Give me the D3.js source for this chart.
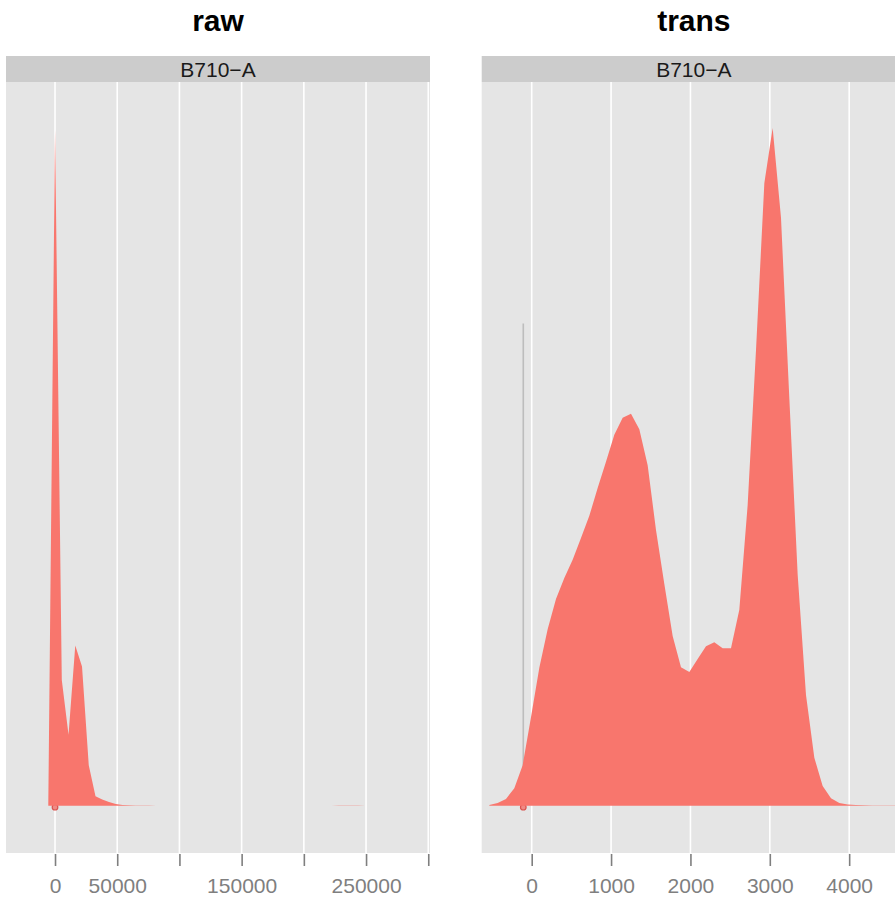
<!DOCTYPE html>
<html lang="en">
<head>
  <meta charset="UTF-8">
  <title>raw vs trans density</title>
  <script src="https://d3js.org/d3.v7.min.js"></script>
  <style>
      body { margin: 0; background: #fff; }
      svg { display: block; font-family: "Liberation Sans", Arial, Helvetica, sans-serif; }
      .panel-bg { fill: #e5e5e5; }
      .strip { fill: #cccccc; }
      .strip-text { font-size: 21px; fill: #1a1a1a; }
      .title { font-size: 30px; font-weight: bold; fill: #000; }
      .grid { stroke: #fff; stroke-width: 1.6px; }
      .tick line { stroke: #7f7f7f; stroke-width: 1.6px; }
      .tick text { font-size: 21px; fill: #7f7f7f; }
      .density { fill: #F8766D; }
  </style>
</head>
<body>
<svg width="895" height="898"></svg>
<script>
  const stripLabel = "B710\u2212A";

  // raw channel: density evaluated on an even grid
  const rawX = [-5400, 20, 5440, 10860, 16280, 21700, 27120, 32540, 37960, 43380,
    48800, 54220, 59640, 65060, 70480, 75900, 81320, 86740, 92160, 97580,
    103000, 108420, 113840, 119260, 124680, 130100, 135520, 140940, 146360, 151780,
    157200, 162620, 168040, 173460, 178880, 184300, 189720, 195140, 200560, 205980,
    211400, 216820, 222240, 227660, 233080, 238500, 243920, 249340, 254760, 260180];
  const rawDensity = [0.002, 1.0, 0.186, 0.105, 0.237, 0.206, 0.060, 0.014, 0.009, 0.0055,
    0.0025, 0.0012, 0.0007, 0.0004, 0.0003, 0.0002, 0.0001, 0, 0, 0,
    0, 0, 0, 0, 0, 0, 0, 0, 0, 0,
    0, 0, 0, 0, 0, 0, 0, 0, 0, 0,
    0, 0, 0.0001, 0.0002, 0.0002, 0.0002, 0.0002, 0.0001, 0.0001, 0];
  const rawTicks = [0, 50000, 100000, 150000, 200000, 250000, 300000];
  const rawTickLabels = ["0", "50000", "", "150000", "", "250000", ""];
  const rawMarker = 0;

  // transformed channel
  const transX = [-534, -429, -324, -219, -114, -9, 96, 201, 306, 411,
    516, 621, 726, 831, 936, 1041, 1146, 1251, 1356, 1461,
    1566, 1671, 1776, 1881, 1986, 2091, 2196, 2301, 2406, 2511,
    2616, 2721, 2826, 2931, 3036, 3141, 3246, 3351, 3456, 3561,
    3666, 3771, 3876, 3981, 4086, 4191, 4296, 4401, 4506, 4611];
  const transDensity = [0.001, 0.004, 0.010, 0.026, 0.060, 0.131, 0.204, 0.261, 0.306, 0.337,
    0.364, 0.396, 0.429, 0.470, 0.509, 0.549, 0.574, 0.580, 0.557, 0.504,
    0.408, 0.328, 0.251, 0.205, 0.198, 0.217, 0.236, 0.242, 0.233, 0.233,
    0.290, 0.445, 0.674, 0.921, 1.003, 0.870, 0.603, 0.342, 0.164, 0.071,
    0.029, 0.011, 0.004, 0.0018, 0.001, 0.0006, 0.0004, 0.0003, 0.0002, 0.0001];
  const transTicks = [0, 1000, 2000, 3000, 4000];
  const transTickLabels = ["0", "1000", "2000", "3000", "4000"];
  const transMarker = -106;
  const transMarkerTop = 0.7135;

  const svg = d3.select("svg");

  const panelTop = 82, panelBottom = 853, stripTop = 56;

  const y = d3.scaleLinear().domain([-0.070, 1.071]).range([panelBottom, panelTop]);

  function drawPanel(opts) {
    const x = d3.scaleLinear().domain(opts.domain).range(opts.range);
    const g = svg.append("g");
    const [x0, x1] = opts.range;
    const mid = (x0 + x1) / 2;

    g.append("text")
      .attr("class", "title")
      .attr("x", mid)
      .attr("y", 30.5)
      .attr("text-anchor", "middle")
      .text(opts.title);

    g.append("rect")
      .attr("class", "strip")
      .attr("x", x0).attr("y", stripTop)
      .attr("width", x1 - x0).attr("height", panelTop - stripTop);

    g.append("text")
      .attr("class", "strip-text")
      .attr("x", mid)
      .attr("y", 77)
      .attr("text-anchor", "middle")
      .text(stripLabel);

    g.append("rect")
      .attr("class", "panel-bg")
      .attr("x", x0).attr("y", panelTop)
      .attr("width", x1 - x0).attr("height", panelBottom - panelTop);

    g.selectAll("line.grid")
      .data(opts.ticks)
      .enter().append("line")
      .attr("class", "grid")
      .attr("x1", d => x(d)).attr("x2", d => x(d))
      .attr("y1", panelTop).attr("y2", panelBottom);

    if (opts.markerTop != null) {
      g.append("line")
        .attr("x1", x(opts.marker)).attr("x2", x(opts.marker))
        .attr("y1", y(opts.markerTop)).attr("y2", y(0))
        .attr("stroke", "#bdbdbd")
        .attr("stroke-width", 1.6);
    }

    g.append("circle")
      .attr("cx", x(opts.marker))
      .attr("cy", y(0) + 1.5)
      .attr("r", 2.8)
      .attr("fill", "#f08a84")
      .attr("stroke", "#d9534f")
      .attr("stroke-width", 1.2);

    const area = d3.area()
      .x((d, i) => x(opts.xs[i]))
      .y0(y(0))
      .y1(d => y(d));

    g.append("path")
      .datum(opts.ys)
      .attr("class", "density")
      .attr("d", area);

    const axis = d3.axisBottom(x)
      .tickValues(opts.ticks)
      .tickSize(12)
      .tickPadding(12)
      .tickFormat((d, i) => opts.labels[i]);

    const ax = g.append("g")
      .attr("transform", `translate(0,${panelBottom + 1})`)
      .call(axis);
    ax.select(".domain").remove();
    ax.selectAll(".tick text").attr("font-family", null).attr("font-size", null);
  }

  drawPanel({
    title: "raw",
    domain: [-39400, 301400], range: [6, 430],
    xs: rawX, ys: rawDensity,
    ticks: rawTicks, labels: rawTickLabels,
    marker: rawMarker, markerTop: null
  });

  // this panel runs past the right edge of the picture
  drawPanel({
    title: "trans",
    domain: [-630, 4716], range: [481.7, 906],
    xs: transX, ys: transDensity,
    ticks: transTicks, labels: transTickLabels,
    marker: transMarker, markerTop: transMarkerTop
  });
</script>
</body>
</html>
